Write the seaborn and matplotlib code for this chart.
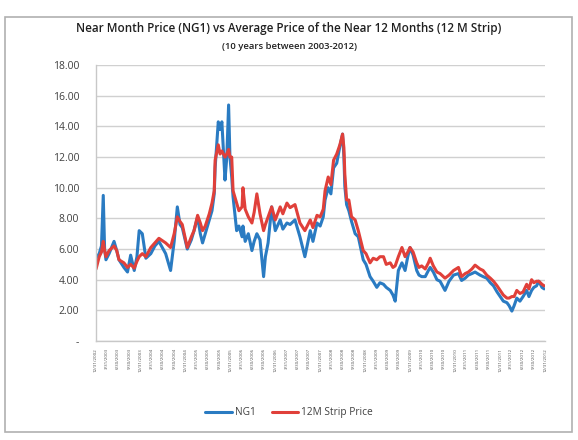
import pandas as pd
import matplotlib
matplotlib.use('Agg')
import matplotlib.pyplot as plt
from matplotlib.patches import Rectangle
import seaborn as sns

# time axis as decimal years
t_year = [2003.00, 2003.07, 2003.12, 2003.16, 2003.19, 2003.22, 2003.29, 2003.40, 2003.46, 2003.51,
          2003.62, 2003.70, 2003.77, 2003.85, 2003.91, 2003.96, 2004.03, 2004.11, 2004.22, 2004.31,
          2004.40, 2004.55, 2004.66, 2004.74, 2004.81, 2004.87, 2004.92, 2005.03, 2005.12, 2005.18,
          2005.26, 2005.32, 2005.37, 2005.43, 2005.52, 2005.58, 2005.63, 2005.65, 2005.72, 2005.76,
          2005.80, 2005.87, 2005.91, 2005.95, 2005.98, 2006.02, 2006.05, 2006.13, 2006.18, 2006.25,
          2006.27, 2006.32, 2006.39, 2006.47, 2006.52, 2006.58, 2006.65, 2006.73, 2006.77, 2006.83,
          2006.91, 2006.99, 2007.10, 2007.16, 2007.25, 2007.32, 2007.43, 2007.54, 2007.65, 2007.77,
          2007.83, 2007.92, 2007.99, 2008.06, 2008.10, 2008.17, 2008.23, 2008.29, 2008.36, 2008.43,
          2008.49, 2008.52, 2008.54, 2008.58, 2008.63, 2008.69, 2008.77, 2008.84, 2008.95, 2009.01,
          2009.10, 2009.17, 2009.25, 2009.32, 2009.40, 2009.46, 2009.55, 2009.61, 2009.66, 2009.73,
          2009.81, 2009.88, 2009.94, 2009.99, 2010.06, 2010.14, 2010.19, 2010.25, 2010.33, 2010.40,
          2010.44, 2010.51, 2010.59, 2010.66, 2010.77, 2010.86, 2010.96, 2011.07, 2011.14, 2011.22,
          2011.29, 2011.37, 2011.44, 2011.55, 2011.62, 2011.70, 2011.78, 2011.85, 2011.93, 2012.00,
          2012.07, 2012.15, 2012.20, 2012.26, 2012.31, 2012.37, 2012.44, 2012.51, 2012.59, 2012.64,
          2012.70, 2012.75, 2012.81, 2012.86, 2012.93, 2012.98]

ng1 = [5.4, 5.7, 6.2, 9.5, 6.0, 5.3, 5.7, 6.5, 5.9, 5.3,
       4.8, 4.5, 5.6, 4.6, 5.5, 7.2, 7.0, 5.4, 5.7, 6.2,
       6.5, 5.7, 4.6, 6.5, 8.75, 7.6, 7.4, 6.0, 6.6, 7.2,
       8.1, 7.0, 6.4, 7.0, 7.9, 8.5, 9.6, 11.3, 14.3, 13.8,
       14.3, 10.5, 12.0, 15.4, 12.0, 10.7, 9.4, 7.2, 7.5, 6.8,
       7.5, 6.5, 7.0, 5.9, 6.5, 7.0, 6.6, 4.2, 5.5, 6.4,
       8.75, 7.2, 7.9, 7.3, 7.7, 7.6, 7.9, 6.8, 5.5, 7.2,
       6.5, 7.7, 7.5, 8.1, 9.2, 10.0, 9.6, 11.3, 11.6, 12.7,
       13.5, 12.0, 10.1, 8.9, 8.5, 7.8, 7.0, 6.8, 5.3, 5.0,
       4.2, 3.9, 3.5, 3.8, 3.7, 3.5, 3.3, 3.0, 2.6, 4.6,
       5.1, 4.6, 5.5, 6.1, 5.6, 4.6, 4.3, 4.2, 4.2, 4.6,
       4.8, 4.5, 4.0, 3.9, 3.3, 3.9, 4.3, 4.4, 3.95, 4.1,
       4.3, 4.4, 4.5, 4.3, 4.2, 4.1, 3.8, 3.6, 3.2, 2.9,
       2.6, 2.5, 2.3, 1.95, 2.3, 2.8, 2.6, 2.9, 3.3, 2.9,
       3.3, 3.5, 3.6, 3.9, 3.5, 3.4]

strip_12m = [4.7, 5.5, 5.8, 6.5, 5.9, 5.5, 5.9, 6.2, 5.9, 5.3,
             5.1, 4.8, 5.0, 4.75, 5.2, 5.5, 5.7, 5.5, 6.1, 6.4,
             6.7, 6.4, 6.1, 7.0, 8.1, 7.8, 7.6, 6.1, 6.8, 7.2,
             8.2, 7.7, 7.2, 7.5, 8.3, 9.0, 9.8, 11.8, 12.8, 12.2,
             12.4, 12.0, 12.2, 12.5, 12.0, 12.0, 9.8, 9.0, 8.5, 8.75,
             10.0, 8.6, 8.1, 7.7, 8.4, 9.6, 8.3, 7.2, 7.6, 8.1,
             8.75, 7.9, 8.75, 8.3, 9.0, 8.7, 8.9, 7.7, 7.2, 7.9,
             7.4, 8.2, 8.1, 8.6, 9.8, 10.7, 10.2, 11.8, 12.2, 12.8,
             13.5, 12.6, 10.9, 9.2, 9.2, 8.1, 7.9, 7.2, 5.9, 5.7,
             5.1, 5.4, 5.3, 5.5, 5.5, 5.0, 5.1, 4.8, 4.9, 5.5,
             6.1, 5.5, 5.8, 6.1, 5.8, 5.1, 4.8, 4.9, 4.7, 5.1,
             5.4, 4.9, 4.5, 4.4, 4.1, 4.3, 4.6, 4.8, 4.2, 4.4,
             4.5, 4.7, 4.95, 4.7, 4.6, 4.3, 4.1, 3.9, 3.6, 3.3,
             3.0, 2.8, 2.8, 2.9, 2.9, 3.3, 3.1, 3.2, 3.7, 3.4,
             4.0, 3.8, 3.9, 3.9, 3.7, 3.6]

series_names = ['NG1', '12M Strip Price']
colors = ['#2a7bc2', '#e0403a']
y_ticks = [0, 2, 4, 6, 8, 10, 12, 14, 16, 18]

def to_date(y):
    yr = int(y)
    return pd.Timestamp(f'{yr}-01-01') + pd.Timedelta(days=(y - yr) * 365.25)

dates = [to_date(v) for v in t_year]
df = pd.DataFrame({'date': dates * 2,
                   'price': ng1 + strip_12m,
                   'series': [series_names[0]] * len(ng1) + [series_names[1]] * len(strip_12m)})

sns.set_style('white')
plt.rcParams['font.family'] = ['Open Sans', 'DejaVu Sans']

fig = plt.figure(figsize=(5.78, 4.40), dpi=100)
ax = fig.add_axes([0.166, 0.225, 0.777, 0.627])

sns.lineplot(data=df, x='date', y='price', hue='series', palette=colors,
             linewidth=2.2, ax=ax, legend=False)

ax.set_ylim(0, 18)
ax.set_yticks(y_ticks)
ax.set_yticklabels(['-' if v == 0 else f'{v:.2f}' for v in y_ticks], fontsize=7.5, color='#404040')
ax.yaxis.grid(True, color='#d0d0d0', linewidth=1)
ax.set_axisbelow(True)

qtr = pd.date_range('2002-12-31', '2012-12-31', freq='QE')
ax.set_xlim(qtr[0], qtr[-1])
ax.set_xticks(qtr)
ax.set_xticklabels([f'{d.month}/{d.day}/{d.year}' for d in qtr], rotation=90, fontsize=3.2, color='#505050')
ax.tick_params(axis='both', length=3, color='#c0c0c0', width=0.8)
ax.tick_params(axis='y', pad=9)
ax.tick_params(axis='x', pad=2)
ax.set_xlabel('')
ax.set_ylabel('')

for s in ['top', 'right']:
    ax.spines[s].set_visible(False)
for s in ['left', 'bottom']:
    ax.spines[s].set_color('#c8c8c8')
    ax.spines[s].set_linewidth(1)

fig.text(0.5, 0.936, 'Near Month Price (NG1) vs Average Price of the Near 12 Months (12 M Strip)',
         ha='center', va='center', fontsize=8.4, fontweight='semibold', color='#202020')
fig.text(0.5, 0.895, '(10 years between 2003-2012)', ha='center', va='center',
         fontsize=6.8, fontweight='semibold', color='#202020')

handles = [plt.Line2D([], [], color=c, linewidth=2.2) for c in colors]
fig.legend(handles, series_names, loc='center', bbox_to_anchor=(0.5, 0.062), ncol=2,
           frameon=False, fontsize=7.3, handlelength=2.6, handletextpad=0.3, columnspacing=1.6,
           labelcolor='#404040')

fig.add_artist(Rectangle((0.009, 0.018), 0.981, 0.943, transform=fig.transFigure,
                         fill=False, edgecolor='#b0b0b0', linewidth=1.2))

fig.savefig('out.png', dpi=100)
